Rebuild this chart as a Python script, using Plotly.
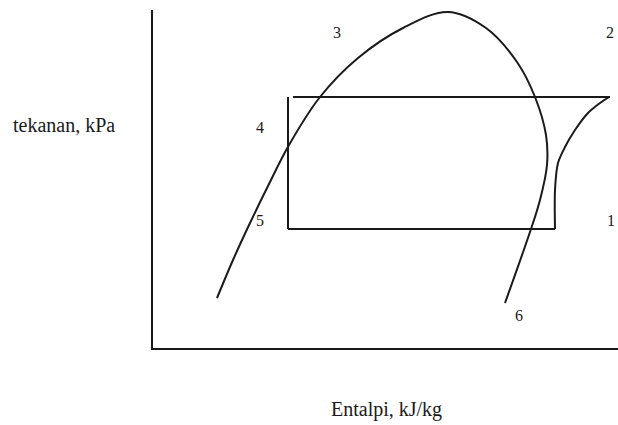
import plotly.graph_objects as go

# Saturation dome (enthalpy, pressure) in arbitrary chart units
dome_h = [64, 80, 97, 115, 136, 167, 205, 250, 295, 333, 364, 382, 393, 394, 387, 378, 352]
dome_p = [50, 88, 125, 162, 203, 251, 290, 320, 336, 320, 286, 251, 213, 183, 148, 119, 45]

# Cycle: condenser line (top), expansion (left vertical), evaporator (bottom), compression curve
top_h = [140, 457]
top_p = [251, 251]
left_h = [135, 135]
left_p = [251, 119]
bottom_h = [135, 402]
bottom_p = [119, 119]
comp_h = [402, 402, 405, 412, 422, 435, 447, 456]
comp_p = [119, 158, 185, 201, 218, 235, 245, 251]

# State point labels
label_text = ["3", "2", "4", "5", "1", "6"]
label_h = [184, 457, 107, 107, 458, 366]
label_p = [316, 316, 221, 128, 128, 33]

ink = "#1a1a1a"
fig = go.Figure()
fig.add_trace(go.Scatter(x=dome_h, y=dome_p, mode="lines",
                         line=dict(color=ink, width=2, shape="spline", smoothing=1.0)))
for hx, py in [(top_h, top_p), (left_h, left_p), (bottom_h, bottom_p)]:
    fig.add_trace(go.Scatter(x=hx, y=py, mode="lines", line=dict(color=ink, width=2)))
fig.add_trace(go.Scatter(x=comp_h, y=comp_p, mode="lines",
                         line=dict(color=ink, width=2, shape="spline", smoothing=0.8)))

serif = "Liberation Serif, Times New Roman, serif"
font = dict(family=serif, size=16, color=ink)
for t, hx, py in zip(label_text, label_h, label_p):
    fig.add_annotation(x=hx, y=py, text=t, showarrow=False, font=font)

title_font = dict(family=serif, size=20, color=ink)
fig.add_annotation(xref="paper", yref="paper", x=-0.191, y=0.66, text="tekanan, kPa",
                   xanchor="center", yanchor="middle", showarrow=False, font=title_font)
fig.add_annotation(xref="paper", yref="paper", x=0.503, y=-0.183, text="Entalpi, kJ/kg",
                   xanchor="center", yanchor="middle", showarrow=False, font=title_font)

fig.update_layout(
    width=618, height=425,
    margin=dict(l=153, r=0, t=10, b=77),
    paper_bgcolor="white", plot_bgcolor="white",
    showlegend=False,
    xaxis=dict(range=[0, 465], showgrid=False, zeroline=False, showticklabels=False,
               ticks="", showline=True, linecolor=ink, linewidth=2),
    yaxis=dict(range=[0, 338], showgrid=False, zeroline=False, showticklabels=False,
               ticks="", showline=True, linecolor=ink, linewidth=2),
)
fig.write_html("out.html", config={"displayModeBar": False},
               post_script="document.body.style.margin='0';")
